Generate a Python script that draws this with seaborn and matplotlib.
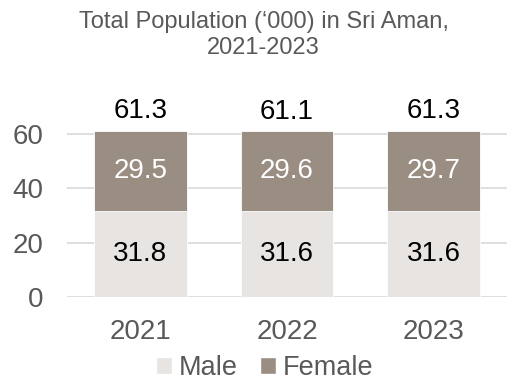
import matplotlib
matplotlib.use("Agg")
import matplotlib.pyplot as plt
from matplotlib.patches import Patch
import seaborn as sns
import pandas as pd

years = ["2021", "2022", "2023"]
male = [31.8, 31.6, 31.6]
female = [29.5, 29.6, 29.7]
total = [61.3, 61.1, 61.3]
y_ticks = [0, 20, 40, 60]

MALE_C = "#E7E4E1"
FEMALE_C = "#9A8D81"
TEXT_C = "#595959"
GRID_C = "#D9D9D9"

sns.set_theme(style="white")
plt.rcParams["font.family"] = ["Liberation Sans", "DejaVu Sans"]

df = pd.DataFrame({"year": years, "male": male, "female": female, "total": total})
df["stack"] = df["male"] + df["female"]

fig = plt.figure(figsize=(5.07, 3.81), dpi=100)
ax = fig.add_axes([67 / 507, 1 - 297 / 381, 440 / 507, (297 - 107) / 381])

# female segment drawn as the full stack, male segment laid over it
sns.barplot(data=df, x="year", y="stack", color=FEMALE_C, width=0.63,
            saturation=1, ax=ax, edgecolor="white", linewidth=0.6, zorder=2)
sns.barplot(data=df, x="year", y="male", color=MALE_C, width=0.63,
            saturation=1, ax=ax, edgecolor="white", linewidth=0.6, zorder=3)

ax.set_ylim(0, 70)
ax.set_xlim(-0.5, 2.5)
ax.set_yticks(y_ticks)
ax.yaxis.grid(True, color=GRID_C, linewidth=1.2, zorder=0)
ax.set_axisbelow(True)
for s in ax.spines.values():
    s.set_visible(False)
ax.tick_params(axis="both", length=0, labelsize=20, labelcolor=TEXT_C)
ax.tick_params(axis="y", pad=17)
ax.tick_params(axis="x", pad=16)
ax.set_xlabel("")
ax.set_ylabel("")

for i in range(len(years)):
    ax.text(i, male[i] / 2, f"{male[i]:.1f}", ha="center", va="center",
            fontsize=20, color="black", zorder=5)
    ax.text(i, male[i] + female[i] / 2, f"{female[i]:.1f}", ha="center",
            va="center", fontsize=20, color="white", zorder=5)
    ax.text(i, total[i] + 2.3, f"{total[i]:.1f}", ha="center", va="bottom",
            fontsize=20, color="black", zorder=5, clip_on=False)

fig.text(0.52, 0.972, "Total Population (\u2018000) in Sri Aman,\n2021-2023",
         ha="center", va="top", fontsize=17, color=TEXT_C, linespacing=1.28)

handles = [Patch(facecolor=MALE_C, label="Male"), Patch(facecolor=FEMALE_C, label="Female")]
fig.legend(handles=handles, loc="center", bbox_to_anchor=(0.522, 0.034), ncol=2,
           frameon=False, fontsize=19.5, labelcolor=TEXT_C, handlelength=0.56,
           handleheight=0.56, handletextpad=0.25, columnspacing=0.85,
           borderpad=0.0)

fig.savefig("out.png", dpi=100)
